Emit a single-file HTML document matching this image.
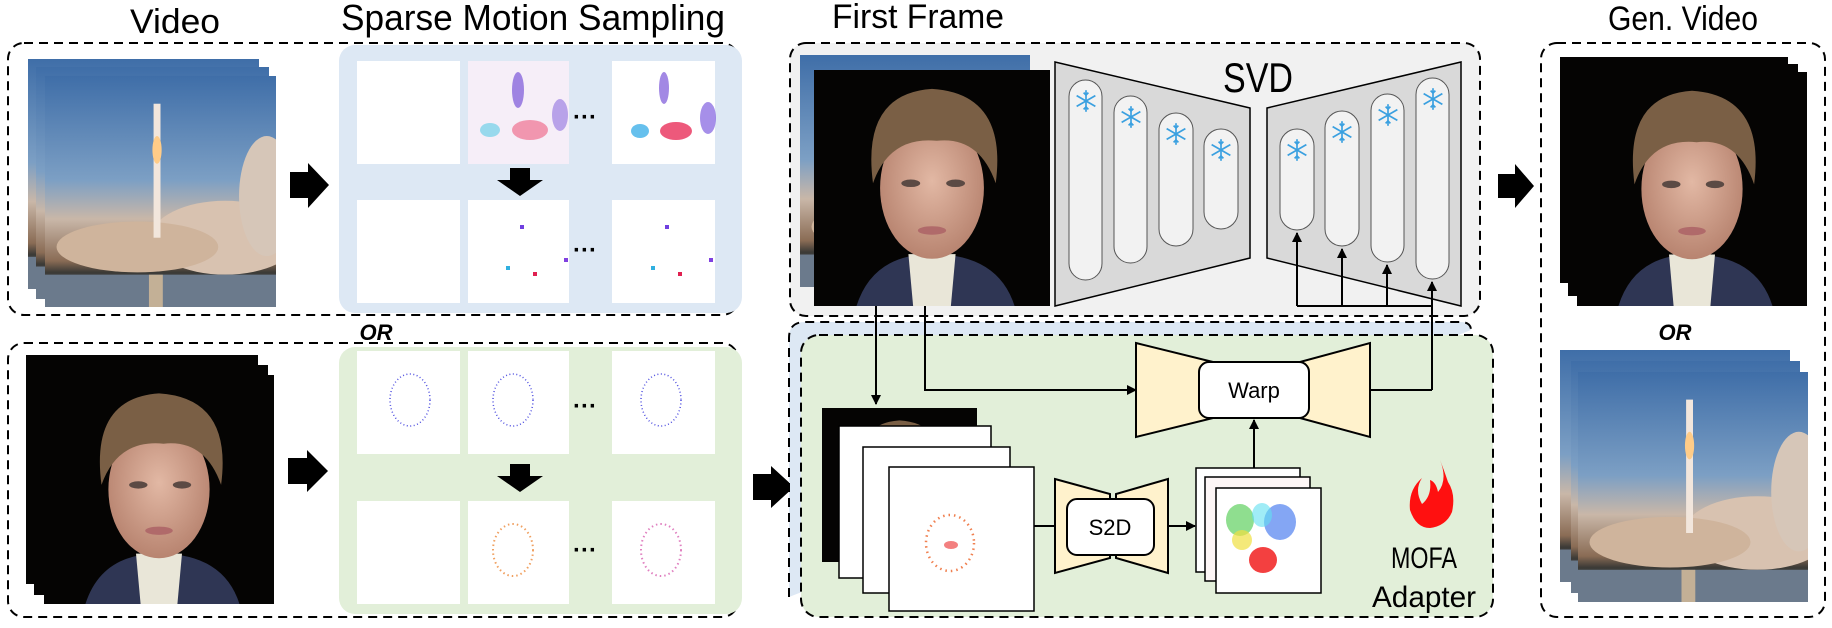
<!DOCTYPE html>
<html><head><meta charset="utf-8"><style>
html,body{margin:0;padding:0;background:#fff;}
svg{display:block;}
text{font-family:"Liberation Sans Narrow","Liberation Sans",sans-serif;}
</style></head><body>
<svg width="1832" height="628" viewBox="0 0 1832 628" xmlns="http://www.w3.org/2000/svg">
<defs>
<linearGradient id="sky" x1="0" y1="0" x2="0" y2="1">
<stop offset="0" stop-color="#3f6ea8"/><stop offset="0.45" stop-color="#7c9fc4"/><stop offset="0.62" stop-color="#c9b7a8"/><stop offset="0.8" stop-color="#8a6c55"/><stop offset="0.85" stop-color="#3b3a36"/><stop offset="1" stop-color="#6d7f95"/>
</linearGradient>
<radialGradient id="skin" cx="0.5" cy="0.45" r="0.55"><stop offset="0" stop-color="#e2b8a4"/><stop offset="1" stop-color="#b88470"/></radialGradient>
<symbol id="rocket" viewBox="0 0 100 100" preserveAspectRatio="none">
<rect width="100" height="100" fill="url(#sky)"/>
<ellipse cx="78" cy="70" rx="32" ry="16" fill="#d8c2b0"/>
<ellipse cx="40" cy="74" rx="35" ry="11" fill="#cfb49c"/>
<ellipse cx="96" cy="52" rx="12" ry="26" fill="#d6c6b8"/>
<rect x="47" y="12" width="3" height="58" fill="#f2e6dc"/>
<ellipse cx="48.5" cy="32" rx="2" ry="6" fill="#ffcc88"/>
<rect x="0" y="86" width="100" height="14" fill="#6b7a8c"/>
<rect x="45" y="86" width="6" height="14" fill="#e8c89a" opacity="0.7"/>
</symbol>
<symbol id="face" viewBox="0 0 100 100" preserveAspectRatio="none">
<rect width="100" height="100" fill="#050403"/>
<path d="M18 100 Q25 78 50 78 Q78 78 85 100Z" fill="#2f3654"/>
<path d="M40 78 L60 78 L58 100 L42 100Z" fill="#e9e6d8"/>
<ellipse cx="50" cy="50" rx="22" ry="30" fill="url(#skin)"/>
<path d="M25 48 Q20 10 50 8 Q82 10 77 48 Q70 28 52 30 Q32 28 25 48Z" fill="#7a5f45"/>
<ellipse cx="41" cy="48" rx="4" ry="1.6" fill="#5b4a44"/><ellipse cx="60" cy="48" rx="4" ry="1.6" fill="#5b4a44"/>
<ellipse cx="50" cy="68" rx="6" ry="1.8" fill="#b06a6a"/>
</symbol>
<symbol id="flake" viewBox="-10 -10 20 20">
<g stroke="#3aa0e0" stroke-width="1.4" fill="none">
<line x1="0" y1="-9" x2="0" y2="9"/><line x1="-7.8" y1="-4.5" x2="7.8" y2="4.5"/><line x1="-7.8" y1="4.5" x2="7.8" y2="-4.5"/>
<path d="M-2 -7 L0 -5 L2 -7 M-2 7 L0 5 L2 7"/>
</g></symbol>
<marker id="ah" markerWidth="10" markerHeight="10" refX="9" refY="5" orient="auto" markerUnits="userSpaceOnUse"><path d="M0 0 L10 5 L0 10Z" fill="#000"/></marker>
</defs>

<text x="175" y="33" font-size="34" text-anchor="middle" textLength="90" lengthAdjust="spacingAndGlyphs">Video</text>
<text x="533" y="30" font-size="36" text-anchor="middle" textLength="384" lengthAdjust="spacingAndGlyphs">Sparse Motion Sampling</text>
<text x="918" y="28" font-size="34" text-anchor="middle" textLength="172" lengthAdjust="spacingAndGlyphs">First Frame</text>
<text x="1683" y="30" font-size="34" text-anchor="middle" textLength="150" lengthAdjust="spacingAndGlyphs">Gen. Video</text>

<rect x="8" y="43" width="730" height="272" rx="16" fill="none" stroke="#000" stroke-width="2" stroke-dasharray="9,6"/>
<rect x="339" y="45" width="403" height="268" rx="16" fill="#dde8f4"/>
<use href="#rocket" x="28" y="59" width="231" height="230"/>
<use href="#rocket" x="36" y="67" width="233" height="232"/>
<use href="#rocket" x="45" y="76" width="231" height="231"/>
<path d="M290 172 L308 172 L308 163 L329 185 L308 208 L308 198 L290 198Z" fill="#000"/>
<rect x="357" y="61" width="103" height="103" fill="#fff"/>
<rect x="468" y="61" width="101" height="103" fill="#f6eef8"/>
<ellipse cx="518" cy="90" rx="6" ry="18" fill="#7b55d8" opacity="0.7"/>
<ellipse cx="530" cy="130" rx="18" ry="10" fill="#f07090" opacity="0.7"/>
<ellipse cx="490" cy="130" rx="10" ry="7" fill="#70d0e8" opacity="0.7"/>
<ellipse cx="560" cy="115" rx="8" ry="16" fill="#9070e0" opacity="0.6"/>
<rect x="612" y="61" width="103" height="103" fill="#fff"/>
<ellipse cx="664" cy="88" rx="5" ry="16" fill="#7b55d8" opacity="0.7"/>
<ellipse cx="676" cy="131" rx="16" ry="9" fill="#e8305a" opacity="0.8"/>
<ellipse cx="640" cy="131" rx="9" ry="7" fill="#40b0e8" opacity="0.8"/>
<ellipse cx="708" cy="118" rx="8" ry="16" fill="#8060e0" opacity="0.7"/>
<text x="585" y="125" font-size="24" font-weight="bold" text-anchor="middle">···</text>
<path d="M510 168 L530 168 L530 180 L543 180 L520 196 L497 180 L510 180Z" fill="#000"/>
<rect x="357" y="200" width="103" height="103" fill="#fff"/>
<rect x="468" y="200" width="101" height="103" fill="#fff"/>
<rect x="520" y="225" width="4" height="4" fill="#7040e0"/><rect x="564" y="258" width="4" height="4" fill="#8040e0"/><rect x="506" y="266" width="4" height="4" fill="#30b0e0"/><rect x="533" y="272" width="4" height="4" fill="#e02050"/>
<rect x="612" y="200" width="103" height="103" fill="#fff"/>
<rect x="665" y="225" width="4" height="4" fill="#7040e0"/><rect x="709" y="258" width="4" height="4" fill="#8040e0"/><rect x="651" y="266" width="4" height="4" fill="#30b0e0"/><rect x="678" y="272" width="4" height="4" fill="#e02050"/>
<text x="585" y="258" font-size="24" font-weight="bold" text-anchor="middle">···</text>

<text x="376" y="340" font-size="22" font-weight="bold" font-style="italic" text-anchor="middle" font-family="Liberation Sans">OR</text>

<rect x="8" y="343" width="730" height="274" rx="16" fill="none" stroke="#000" stroke-width="2" stroke-dasharray="9,6"/>
<rect x="339" y="347" width="403" height="267" rx="16" fill="#e2efd9"/>
<use href="#face" x="26" y="355" width="232" height="229"/>
<use href="#face" x="34" y="365" width="234" height="230"/>
<use href="#face" x="44" y="375" width="230" height="229"/>
<path d="M288 458 L307 458 L307 450 L328 471 L307 492 L307 484 L288 484Z" fill="#000"/>
<g fill="none" stroke="#5050e0" stroke-width="1.5" stroke-dasharray="1,2.5">
<rect x="357" y="351" width="103" height="103" fill="#fff" stroke="none"/>
<rect x="468" y="351" width="101" height="103" fill="#fff" stroke="none"/>
<rect x="612" y="351" width="103" height="103" fill="#fff" stroke="none"/>
<ellipse cx="410" cy="400" rx="20" ry="26"/><ellipse cx="513" cy="400" rx="20" ry="26"/><ellipse cx="661" cy="400" rx="20" ry="26"/>
</g>
<text x="585" y="414" font-size="24" font-weight="bold" text-anchor="middle">···</text>
<path d="M510 464 L530 464 L530 476 L543 476 L520 492 L497 476 L510 476Z" fill="#000"/>
<rect x="357" y="501" width="103" height="103" fill="#fff"/>
<rect x="468" y="501" width="101" height="103" fill="#fff"/>
<rect x="612" y="501" width="103" height="103" fill="#fff"/>
<g fill="none" stroke-width="2" stroke-dasharray="1.5,3">
<ellipse cx="513" cy="550" rx="20" ry="26" stroke="#f0a060"/><ellipse cx="661" cy="550" rx="20" ry="26" stroke="#e080c0"/>
</g>
<text x="585" y="558" font-size="24" font-weight="bold" text-anchor="middle">···</text>

<path d="M753 474 L771 474 L771 466 L794 487 L771 508 L771 500 L753 500Z" fill="#000"/>

<rect x="790" y="43" width="690" height="273" rx="16" fill="#f1f1f1" stroke="#000" stroke-width="2" stroke-dasharray="9,6"/>
<use href="#rocket" x="800" y="55" width="230" height="232"/>
<use href="#face" x="814" y="70" width="236" height="236"/>
<path d="M1055 62 L1250 108 L1250 258 L1055 306Z" fill="#d9d9d9" stroke="#000" stroke-width="1.5"/>
<path d="M1267 108 L1461 62 L1461 306 L1267 258Z" fill="#d9d9d9" stroke="#000" stroke-width="1.5"/>
<text x="1258" y="92" font-size="42" text-anchor="middle" textLength="70" lengthAdjust="spacingAndGlyphs">SVD</text>
<g fill="#f2f2f2" stroke="#555" stroke-width="1">
<rect x="1069" y="80" width="33" height="200" rx="16.5"/>
<rect x="1114" y="96" width="33" height="167" rx="16.5"/>
<rect x="1159" y="113" width="34" height="133" rx="17"/>
<rect x="1204" y="129" width="34" height="100" rx="17"/>
<rect x="1280" y="129" width="34" height="101" rx="17"/>
<rect x="1325" y="111" width="34" height="135" rx="17"/>
<rect x="1371" y="94" width="33" height="168" rx="16.5"/>
<rect x="1416" y="78" width="33" height="201" rx="16.5"/>
</g>
<use href="#flake" x="1074" y="89" width="24" height="24"/>
<use href="#flake" x="1119" y="105" width="24" height="24"/>
<use href="#flake" x="1164" y="122" width="24" height="24"/>
<use href="#flake" x="1209" y="138" width="24" height="24"/>
<use href="#flake" x="1285" y="138" width="24" height="24"/>
<use href="#flake" x="1330" y="120" width="24" height="24"/>
<use href="#flake" x="1376" y="103" width="24" height="24"/>
<use href="#flake" x="1421" y="87" width="24" height="24"/>

<path d="M789 597 L789 338 Q789 322 805 322 L1460 322 Q1471 322 1471 330" fill="#dde8f4" stroke="#000" stroke-width="2" stroke-dasharray="9,6"/>
<rect x="801" y="335" width="692" height="282" rx="18" fill="#e2efd9" stroke="#000" stroke-width="2" stroke-dasharray="9,6"/>

<g stroke="#000" stroke-width="2" fill="none">
<line x1="1297" y1="306" x2="1432" y2="306"/>
<line x1="1297" y1="306" x2="1297" y2="233" marker-end="url(#ah)"/>
<line x1="1342" y1="306" x2="1342" y2="249" marker-end="url(#ah)"/>
<line x1="1387" y1="306" x2="1387" y2="265" marker-end="url(#ah)"/>
<line x1="1432" y1="390" x2="1432" y2="282" marker-end="url(#ah)"/>
<line x1="876" y1="306" x2="876" y2="404" marker-end="url(#ah)"/>
<polyline points="925,306 925,390 1136,390" marker-end="url(#ah)"/>
<polyline points="1370,390 1432,390"/>
</g>
<path d="M1136 343 L1213 362 L1300 362 L1370 343 L1370 437 L1300 418 L1213 418 L1136 437Z" fill="#fff2cc" stroke="#000" stroke-width="2"/>
<rect x="1199" y="362" width="110" height="56" rx="10" fill="#fff" stroke="#000" stroke-width="2"/>
<text x="1254" y="398" font-size="22" text-anchor="middle" font-family="Liberation Sans">Warp</text>
<line x1="1254" y1="468" x2="1254" y2="420" stroke="#000" stroke-width="2" marker-end="url(#ah)"/>

<use href="#face" x="822" y="408" width="155" height="154"/>
<rect x="839" y="426" width="152" height="152" fill="#fff" stroke="#000" stroke-width="1.5"/>
<rect x="863" y="447" width="147" height="146" fill="#fff" stroke="#000" stroke-width="1.5"/>
<rect x="889" y="467" width="145" height="144" fill="#fff" stroke="#000" stroke-width="1.5"/>
<ellipse cx="950" cy="543" rx="24" ry="28" fill="none" stroke="#f08050" stroke-width="2.5" stroke-dasharray="1.5,4"/>
<ellipse cx="951" cy="545" rx="7" ry="4" fill="#f06060" opacity="0.8"/>

<line x1="1034" y1="526" x2="1055" y2="526" stroke="#000" stroke-width="2"/>
<path d="M1055 479 L1110 494 L1110 558 L1055 573Z" fill="#fff2cc" stroke="#000" stroke-width="2"/>
<path d="M1168 479 L1116 494 L1116 558 L1168 573Z" fill="#fff2cc" stroke="#000" stroke-width="2"/>
<rect x="1067" y="499" width="87" height="56" rx="10" fill="#fff" stroke="#000" stroke-width="2"/>
<text x="1110" y="535" font-size="22" text-anchor="middle" font-family="Liberation Sans">S2D</text>
<line x1="1168" y1="526" x2="1195" y2="526" stroke="#000" stroke-width="2" marker-end="url(#ah)"/>

<rect x="1196" y="468" width="104" height="104" fill="#fff" stroke="#000" stroke-width="1.5"/>
<rect x="1205" y="477" width="105" height="104" fill="#fdf6f6" stroke="#000" stroke-width="1.5"/>
<rect x="1216" y="488" width="105" height="105" fill="#fff" stroke="#000" stroke-width="1.5"/>
<ellipse cx="1240" cy="520" rx="14" ry="16" fill="#60d060" opacity="0.7"/>
<ellipse cx="1280" cy="522" rx="16" ry="18" fill="#5080f0" opacity="0.7"/>
<ellipse cx="1262" cy="515" rx="10" ry="12" fill="#60e0f0" opacity="0.6"/>
<ellipse cx="1242" cy="540" rx="10" ry="10" fill="#f0e040" opacity="0.7"/>
<ellipse cx="1263" cy="560" rx="14" ry="13" fill="#f01010" opacity="0.8"/>

<path d="M1440 460 Q1448 480 1438 492 Q1436 482 1430 480 Q1432 496 1422 504 Q1414 490 1422 478 Q1408 490 1410 510 Q1416 528 1430 528 Q1446 526 1452 512 Q1456 494 1448 482 Q1444 470 1440 460Z" fill="#ff1010"/>
<text x="1424" y="568" font-size="30" text-anchor="middle" font-family="Liberation Sans" textLength="66" lengthAdjust="spacingAndGlyphs">MOFA</text>
<text x="1424" y="607" font-size="30" text-anchor="middle" font-family="Liberation Sans" textLength="104" lengthAdjust="spacingAndGlyphs">Adapter</text>

<path d="M1498 174 L1515 174 L1515 164 L1534 186 L1515 208 L1515 198 L1498 198Z" fill="#000"/>

<rect x="1541" y="43" width="284" height="574" rx="16" fill="none" stroke="#000" stroke-width="2" stroke-dasharray="9,6"/>
<use href="#face" x="1560" y="57" width="228" height="226"/>
<use href="#face" x="1568" y="64" width="230" height="232"/>
<use href="#face" x="1577" y="72" width="230" height="234"/>
<text x="1675" y="340" font-size="22" font-weight="bold" font-style="italic" text-anchor="middle" font-family="Liberation Sans">OR</text>
<use href="#rocket" x="1560" y="350" width="230" height="232"/>
<use href="#rocket" x="1571" y="361" width="229" height="232"/>
<use href="#rocket" x="1578" y="372" width="230" height="230"/>
</svg>
</body></html>
